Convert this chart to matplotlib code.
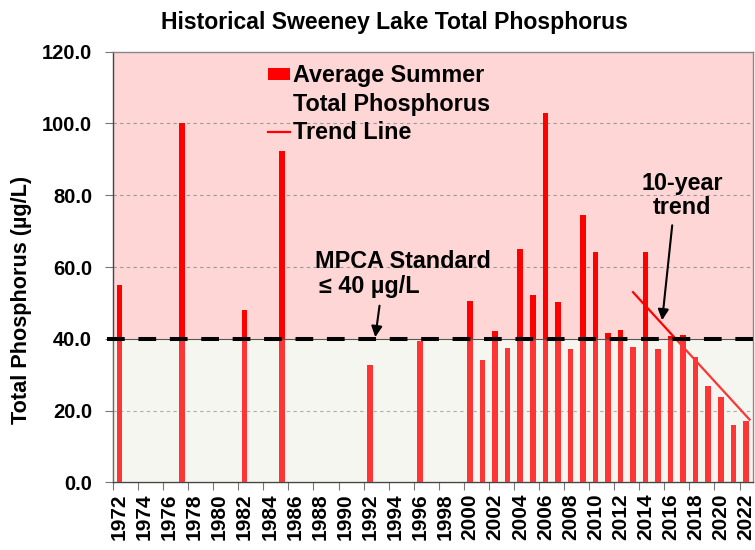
import matplotlib
matplotlib.use("Agg")
import matplotlib.pyplot as plt
from matplotlib.patches import Patch
from matplotlib.lines import Line2D

plt.rcParams['font.family'] = ['Liberation Sans', 'DejaVu Sans']
plt.rcParams['font.weight'] = 'bold'

# average summer total phosphorus (ug/L)
years = [1972, 1977, 1982, 1985, 1992, 1996,
         2000, 2001, 2002, 2003, 2004, 2005, 2006, 2007, 2008, 2009, 2010,
         2011, 2012, 2013, 2014, 2015, 2016, 2017, 2018, 2019, 2020, 2021, 2022]
tp = [55.0, 100.0, 48.0, 92.2, 32.7, 39.5,
      50.5, 34.2, 42.3, 37.5, 64.9, 52.3, 103.0, 50.4, 37.3, 74.6, 64.2,
      41.7, 42.4, 37.7, 64.2, 37.3, 40.9, 41.0, 34.9, 26.8, 23.8, 16.1, 17.2]

# 10-year trend line end points
trend_x = [2013.0, 2022.3]
trend_y = [53.0, 17.5]

standard = 40.0
yticks = [0, 20, 40, 60, 80, 100, 120]
label_years = list(range(1972, 2023, 2))

fig = plt.figure(figsize=(7.55, 5.5), dpi=100)
ax = fig.add_axes([113 / 755, 1 - 482.4 / 550, 639.7 / 755, 430.7 / 550])

xmin, xmax = 1971.5, 2022.55
ax.set_xlim(xmin, xmax)
ax.set_ylim(0, 120)

# background zones
ax.axhspan(standard, 120, color='#FFD6D6', zorder=0, lw=0)
ax.axhspan(0, standard, color='#F6F6F0', zorder=0, lw=0)

# gridlines
for v in yticks[1:-1]:
    if v == standard:
        continue
    ax.axhline(v, color='#999999', lw=0.8, ls=(0, (3, 3)), zorder=1)

ax.bar(years, tp, width=0.44, color='#FF0000', zorder=2)
ax.plot(trend_x, trend_y, color='#FF0000', lw=1.6, zorder=2.5)

# washed-out overlay on the lower zone
ax.axhspan(0, standard, color='#F6F6F0', alpha=0.22, zorder=3, lw=0)
ax.axhline(standard, color='#555555', lw=0.8, zorder=3.5)
ax.plot([xmin - 0.45, xmax], [standard, standard], color='black', lw=2.9,
        ls=(0, (4.4, 3.4)), zorder=4, clip_on=False)

# annotations
ax.text(1994.6, 61.6, 'MPCA Standard', fontsize=16.8, fontweight='bold',
        ha='center', va='center', zorder=5)
ax.text(1987.9, 54.6, '≤ 40 µg/L', fontsize=16.8, fontweight='bold',
        ha='left', va='center', zorder=5)
ax.annotate('', xy=(1992.4, 39.7), xytext=(1992.8, 50.0),
            arrowprops=dict(arrowstyle='-|>', color='black', lw=1.5,
                            mutation_scale=16), zorder=6)
ax.text(2016.9, 79.9, '10-year\ntrend', fontsize=16.8, fontweight='bold',
        ha='center', va='center', linespacing=1.05, zorder=5)
ax.annotate('', xy=(2015.3, 44.4), xytext=(2016.15, 72.4),
            arrowprops=dict(arrowstyle='-|>', color='black', lw=1.5,
                            mutation_scale=16), zorder=6)

# legend
handles = [Patch(facecolor='#FF0000', edgecolor='none'),
           Patch(facecolor='none', edgecolor='none'),
           Line2D([], [], color='#FF0000', lw=1.6)]
labels = ['Average Summer', 'Total Phosphorus', 'Trend Line']
ax.legend(handles, labels, loc='upper left', bbox_to_anchor=(0.242, 0.971),
          frameon=False, handlelength=0.97, handleheight=0.45,
          handletextpad=0.1, labelspacing=0.23, borderpad=0, borderaxespad=0,
          prop={'weight': 'bold', 'size': 16.8})

# axes styling
ax.set_yticks(yticks)
ax.set_yticklabels([f'{v:.1f}' for v in yticks], fontsize=14.5, fontweight='bold')
ax.tick_params(axis='y', direction='out', length=6, width=0.8, color='#777777', pad=9)

ax.set_xticks(label_years)
ax.set_xticklabels([str(y) for y in label_years], rotation=90, fontsize=15,
                   fontweight='bold')
ax.tick_params(axis='x', which='major', length=0, pad=8)
ax.set_xticks([y - 0.5 for y in label_years], minor=True)
ax.tick_params(axis='x', which='minor', direction='out', length=6, width=0.8,
               color='#777777')

for side in ['left', 'bottom']:
    ax.spines[side].set_color('#444444')
    ax.spines[side].set_linewidth(1.0)
for side in ['top', 'right']:
    ax.spines[side].set_color('#888888')
    ax.spines[side].set_linewidth(1.0)

ax.set_ylabel('Total Phosphorus (µg/L)', fontsize=15.6, fontweight='bold')
ax.yaxis.set_label_coords(-0.1266, 0.4235)

fig.text(394 / 755, 1 - 22 / 550, 'Historical Sweeney Lake Total Phosphorus',
         ha='center', va='center', fontsize=16.6, fontweight='bold')

fig.savefig('out.png', dpi=100)
